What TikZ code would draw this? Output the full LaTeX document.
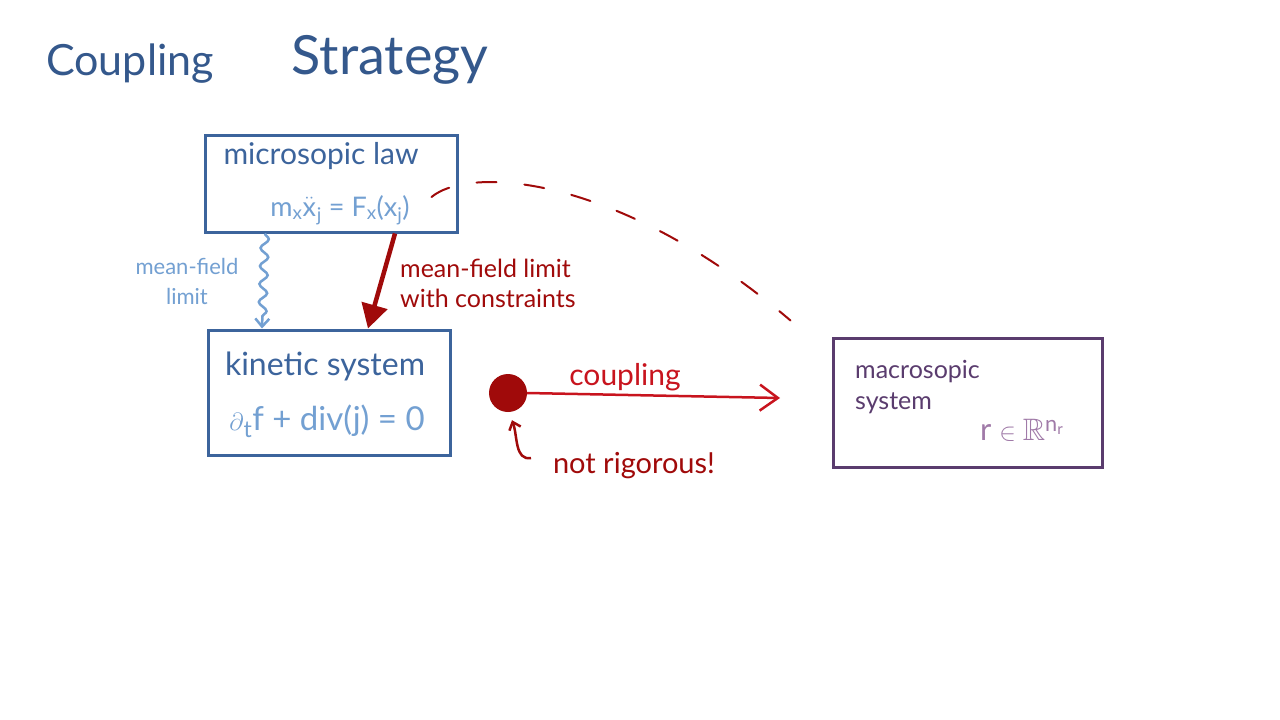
\documentclass[tikz,border=0pt]{standalone}
\usepackage{fontspec}
\setmainfont{Lato}
\usepackage{amssymb}
\usetikzlibrary{arrows.meta,decorations.pathmorphing,calc}
\definecolor{titleblue}{HTML}{34588C}
\definecolor{boxblue}{HTML}{3C649C}
\definecolor{lightblue}{HTML}{73A0D2}
\definecolor{darkred}{HTML}{A00A0A}
\definecolor{brightred}{HTML}{C8141E}
\definecolor{purp}{HTML}{5A3C6E}
\definecolor{lightpurp}{HTML}{A07AA8}
\tikzset{
  fs/.style n args={2}{font=\fontsize{#1}{#2}\selectfont},
  bluebox/.style={draw=boxblue, line width=3pt, rectangle, inner sep=0pt},
  purpbox/.style={draw=purp, line width=3pt, rectangle, inner sep=0pt},
  txt/.style={inner sep=1pt},
}
\begin{document}
\begin{tikzpicture}[x=1pt,y=-1pt]
\fill[white] (0,0) rectangle (1280,720);
\useasboundingbox (0,0) rectangle (1280,720);

% title
\node[txt, fs={43}{52}, text=titleblue] (t1) at (130,64) {Coupling};
\node[txt, fs={54}{62}, text=titleblue] (t2) at (390,60) {Strategy};

% boxes
\node[bluebox, minimum width=252pt, minimum height=97pt] (micro) at (331,183.5) {};
\node[bluebox, minimum width=242pt, minimum height=125pt] (kin) at (329,392.5) {};
\node[purpbox, minimum width=269pt, minimum height=129pt] (macro) at (967.5,402.5) {};

% box texts
\node[txt, fs={30}{36}, text=boxblue] (mlaw) at (321,156) {microsopic law};
\node[txt, fs={27}{30}, text=lightblue] (meq) at (340,210) {m\textsubscript{x}$\ddot{\mathrm{x}}$\textsubscript{\kern1pt j} = F\textsubscript{x}(x\textsubscript{j})};
\node[txt, fs={32}{38}, text=boxblue] (ksys) at (325,366) {kinetic system};
\node[txt, fs={33}{40}, text=lightblue] (keq) at (327,421) {$\partial$\textsubscript{t}f + div(j) = 0};
\node[txt, fs={25}{31}, text=purp, align=left, anchor=north west, inner sep=0pt] (msys) at (855,360) {macrosopic\\system};
\node[txt, fs={31}{36}, text=lightpurp] (mr) at (1022,430) {r $\in\mathbb{R}$\textsuperscript{n\textsubscript{r}}};

% dot
\node[circle, fill=darkred, minimum size=38pt, inner sep=0pt] (dot) at (508,393) {};
\coordinate (cend) at (780,398);

% wavy arrow
\draw[lightblue, line width=2.5pt, decorate,
      decoration={snake, amplitude=4pt, segment length=18pt, post length=8pt},
      -{Straight Barb[length=8pt,width=14pt]}]
  ([xshift=-66pt]micro.south) -- ([xshift=-67pt]kin.north);
\node[txt, fs={22}{30}, text=lightblue, align=center] (lblmf) at (187,281) {mean-field\\limit};

% thick red arrow
\draw[darkred, line width=4.5pt, -{Triangle[width=26pt,length=24pt]}]
  ([xshift=64pt]micro.south) -- ([xshift=39pt]kin.north);
\node[txt, fs={25}{30}, text=darkred, align=left, anchor=west] (lblmfc) at (399,283) {mean-field limit\\with constraints};

% coupling arrow
\draw[brightred, line width=2.5pt, -{Straight Barb[length=18pt,width=26pt]}]
  (dot.east) -- (cend);
\node[txt, fs={30}{36}, text=brightred] (lblc) at (625,377) {coupling};

% not rigorous
\coordinate (nrtail) at (531,458);
\draw[darkred, line width=2.5pt, -{Straight Barb[length=7pt,width=12pt]}]
  (nrtail) to[out=190,in=-70] ([xshift=4pt,yshift=-8pt]dot.south);
\node[txt, fs={29}{34}, text=darkred] (lblnr) at (634,466) {not rigorous!};

% dashed curve
\draw[darkred, line width=2pt, dash pattern=on 20pt off 28pt, line cap=round]
  ([xshift=-27pt,yshift=-13.5pt]micro.east) .. controls (470,165) and (620,175) .. ([xshift=-41pt,yshift=16pt]macro.north west);
\end{tikzpicture}
\end{document}
